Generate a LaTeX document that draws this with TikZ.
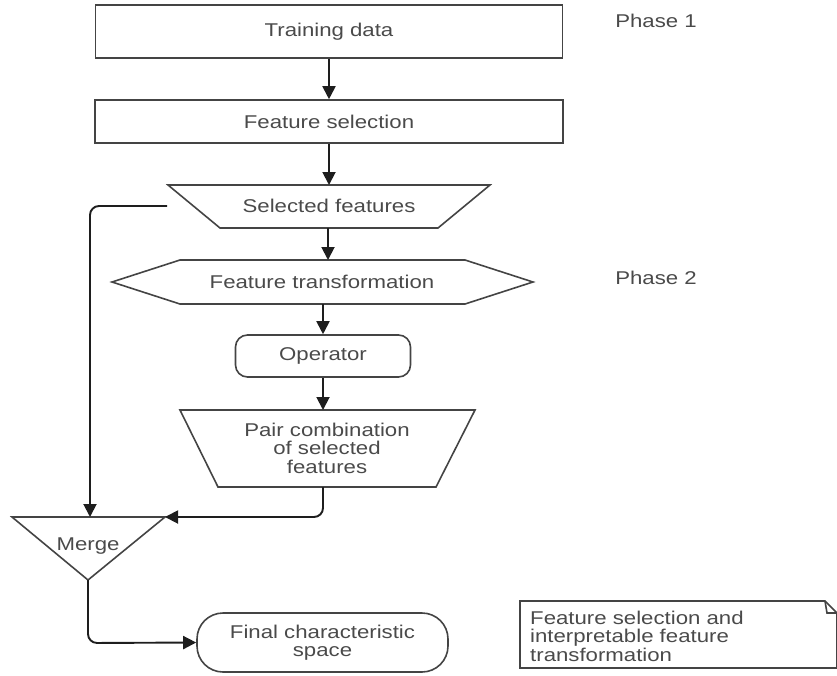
\documentclass[tikz,border=0pt]{standalone}
\usepackage{fontspec}
\setmainfont{Liberation Sans}[FakeStretch=1.2]
\usetikzlibrary{arrows.meta}
\definecolor{edgec}{HTML}{444444}
\definecolor{txtc}{HTML}{4A4A4A}
\definecolor{arrc}{HTML}{1E1E1E}
\begin{document}
\begin{tikzpicture}[x=1pt,y=-1pt,
  font=\fontsize{18.5}{18.5}\selectfont, text=txtc,
  shp/.style={draw=edgec, line width=1.6pt},
  boxnode/.style={shp, inner sep=0pt},
  lbl/.style={align=center, inner sep=0pt},
  arr/.style={draw=arrc, line width=1.9pt, rounded corners=9pt, -{Triangle[length=13pt,width=13pt]}}
]
\useasboundingbox (0,0) rectangle (837,675);

% Phase 1 nodes
\node[boxnode, minimum width=467pt, minimum height=53pt] (train) at (329,31.5) {Training data};
\node[boxnode, minimum width=468pt, minimum height=43pt] (fsel) at (329,121.5) {Feature selection};

% Selected features (trapezoid, wide on top)
\draw[shp] (168,185) -- (490,185) -- (438,228) -- (220,228) -- cycle;
\node[lbl] (sel) at (329,206) {Selected features};
\coordinate (selT) at (329,185);
\coordinate (selB) at (328,228);
\coordinate (selL) at (167,206);

% Feature transformation (hexagon)
\draw[shp] (112,282) -- (180,260) -- (465,260) -- (533,282) -- (465,304) -- (180,304) -- cycle;
\node[lbl] (ftr) at (322,282) {Feature transformation};
\coordinate (ftrT) at (328,260);
\coordinate (ftrB) at (323,304);

% Operator
\node[boxnode, rounded corners=12pt, minimum width=175pt, minimum height=42pt] (op) at (323,356) {Operator};

% Pair combination (trapezoid)
\draw[shp] (180,410) -- (475,410) -- (436,487) -- (218,487) -- cycle;
\node[lbl] (pair) at (327,448) {Pair combination\\of selected\\features};
\coordinate (pairT) at (323,410);
\coordinate (pairB) at (323,487);

% Merge (triangle)
\draw[shp] (12,517) -- (165,517) -- (88,580) -- cycle;
\node[lbl] (merge) at (88,546) {Merge};
\coordinate (mergeT) at (90,517);
\coordinate (mergeR) at (165,517);
\coordinate (mergeB) at (88,580);

% Final characteristic space
\node[boxnode, rounded corners=26pt, minimum width=251pt, minimum height=59pt, align=center] (final) at (322.5,642.5) {Final characteristic\\space};

% Phase labels
\node[lbl] (ph1) at (656,21) {Phase 1};
\node[lbl] (ph2) at (656,278) {Phase 2};

% Note
\draw[shp] (520,601) -- (825,601) -- (837,613) -- (837,668) -- (520,668) -- cycle;
\draw[shp] (825,601) -- (827,613) -- (837,613);
\node[align=left, inner sep=0pt, anchor=west] (note) at (530,636) {Feature selection and\\interpretable feature\\transformation};

% Connectors
\draw[arr] (train.south) -- (fsel.north);
\draw[arr] (fsel.south) -- (selT);
\draw[arr] (selB) -- (ftrT);
\draw[arr] (ftrB) -- (op.north -| ftrB);
\draw[arr] (op.south -| pairT) -- (pairT);
\draw[arr] (pairB) -- (323,517) -- (mergeR);
\draw[arr] (selL) -- (90,206) -- (mergeT);
\draw[arr] (mergeB) -- (88,643) -- (final.west);
\end{tikzpicture}
\end{document}
